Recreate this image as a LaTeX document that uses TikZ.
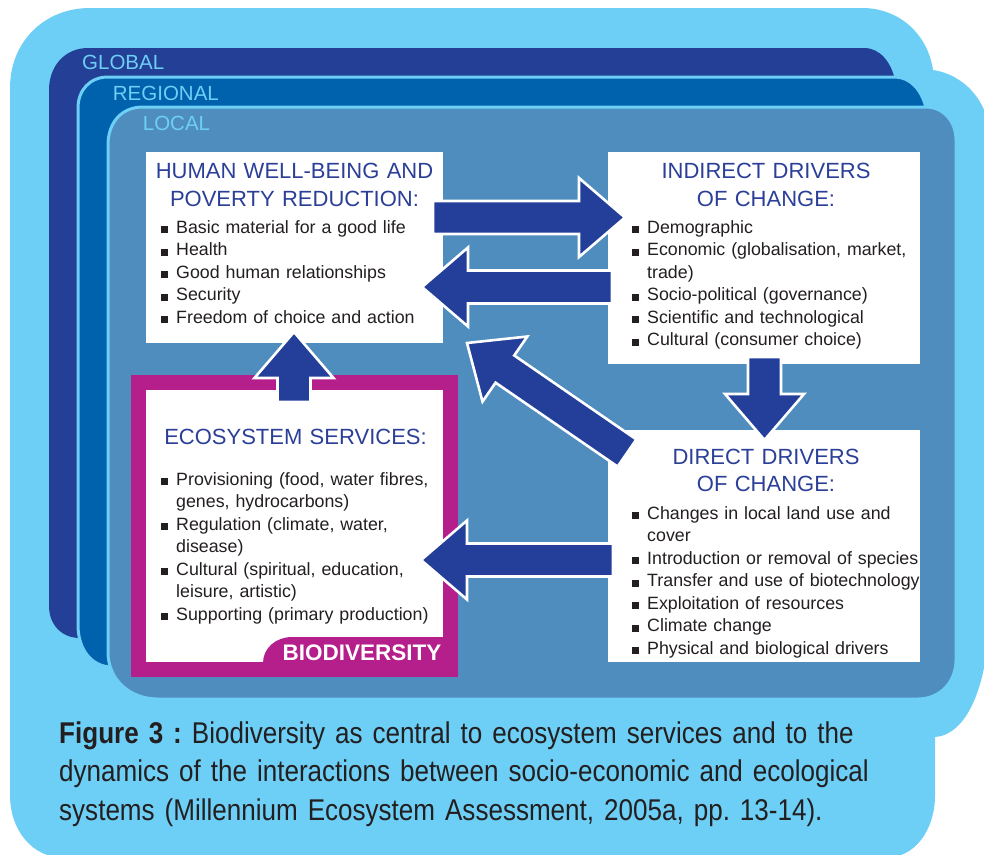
\documentclass[tikz,border=0pt]{standalone}
\usepackage{fontspec}
\setmainfont{Liberation Sans}
\newfontfamily\capfont[FakeStretch=0.868]{Liberation Sans}
\usetikzlibrary{calc}
\definecolor{skyblue}{HTML}{6DCFF6}
\definecolor{globalblue}{HTML}{233F96}
\definecolor{regionblue}{HTML}{0061AD}
\definecolor{localblue}{HTML}{4F8DBE}
\definecolor{arrowblue}{HTML}{233F99}
\definecolor{headblue}{HTML}{2B3F98}
\definecolor{magentab}{HTML}{B51F8C}
\definecolor{bodytext}{HTML}{231F20}
\newcommand\bfirst[1]{\hangindent=15.3pt\hangafter=1\noindent\makebox[15.3pt][l]{\rule{6.6pt}{6.6pt}}#1}
\newcommand\bitem[1]{\par\hangindent=15.3pt\hangafter=1\noindent\makebox[15.3pt][l]{\rule{6.6pt}{6.6pt}}#1}
\newcommand\blockarrow[2]{%
  \coordinate (ahb) at ($(#2)!46pt!(#1)$);
  \draw[arrowstyle] ($(#1)!16.5pt!90:(#2)$) -- ($(ahb)!16.5pt!90:(#2)$) -- ($(ahb)!39.5pt!90:(#2)$)
    -- (#2) -- ($(ahb)!39.5pt!-90:(#2)$) -- ($(ahb)!16.5pt!-90:(#2)$) -- ($(#1)!16.5pt!-90:(#2)$) -- cycle;}
\frenchspacing
\begin{document}
\begin{tikzpicture}[x=1pt,y=-1pt,
  whitebox/.style={fill=white, draw=none, inner sep=0pt, outer sep=0pt, anchor=north west},
  arrowstyle/.style={fill=arrowblue, draw=white, line width=2.6pt, line join=miter},
  headtext/.style={font=\fontsize{22}{27.5}\selectfont, text=headblue, align=center, inner sep=0pt, text width=310pt, anchor=base},
  listtext/.style={font=\fontsize{17.8}{22.5}\selectfont, text=bodytext, align=left, inner sep=0pt, text width=300pt, anchor=base west},
  scalelabel/.style={font=\fontsize{20.5}{24}\selectfont, text=skyblue, inner sep=0pt, anchor=base west}]
\useasboundingbox (0,0) rectangle (984,854);
\fill[white] (0,0) rectangle (984,854);
% outer light blue panel
\fill[skyblue] (10,88) .. controls (10,42) and (44,8) .. (90,8) -- (862,8)
  .. controls (900,8) and (928,35) .. (933,70)
  .. controls (962,74) and (990,100) .. (990,140) -- (990,600)
  .. controls (990,690) and (965,735) .. (935,737) -- (935,795)
  .. controls (935,830) and (915,858) .. (885,858) -- (65,858)
  .. controls (32,858) and (10,830) .. (10,795) -- cycle;
% global
\fill[globalblue] (49,90) .. controls (49,66) and (65,48) .. (88,48) -- (864,48)
  .. controls (880,48) and (891,62) .. (895,80) -- (895,638) -- (80,638)
  .. controls (62,638) and (49,625) .. (49,606) -- cycle;
% regional
\filldraw[fill=regionblue, draw=skyblue, line width=3pt] (78,108) .. controls (78,90) and (90,77) .. (108,77) -- (895,77)
  .. controls (910,77) and (922,90) .. (926,108) -- (926,667) -- (112,667)
  .. controls (92,667) and (78,650) .. (78,625) -- cycle;
% local
\filldraw[fill=localblue, draw=skyblue, line width=3pt] (108,145) .. controls (108,122) and (122,107) .. (143,107) -- (926,107)
  .. controls (943,107) and (956,121) .. (956,140) -- (956,660)
  .. controls (956,682) and (940,699) .. (918,699) -- (158,699)
  .. controls (130,699) and (108,680) .. (108,652) -- cycle;
\node[scalelabel] (lglobal) at (82,69.5) {GLOBAL};
\node[scalelabel] (lregional) at (112.7,100) {REGIONAL};
\node[scalelabel] (llocal) at (142.7,130.5) {LOCAL};
% boxes
\node[whitebox, minimum width=297pt, minimum height=191pt] (hw) at (146,152) {};
\node[whitebox, minimum width=312pt, minimum height=212pt] (ind) at (608,152) {};
\node[whitebox, minimum width=312pt, minimum height=232pt] (dir) at (608,430) {};
\node[whitebox, fill=magentab, minimum width=327pt, minimum height=302pt] (ecoframe) at (131,375) {};
\node[whitebox, minimum width=297pt, minimum height=272pt] (eco) at (146,390) {};
\fill[magentab] (263,663) .. controls (263,648) and (276,637) .. (292,637) -- (444,637) -- (444,663) -- cycle;
\node[font=\bfseries\fontsize{22.5}{26}\selectfont, text=white, inner sep=0pt, anchor=base east] (biodiv) at (441.5,660) {BIODIVERSITY};
% arrows
\coordinate (a1s) at (433,217.5); \coordinate (a1e) at (625,217.5);
\coordinate (a2s) at (612,287); \coordinate (a2e) at (422,287);
\coordinate (a3s) at (294,402); \coordinate (a3e) at (294,332);
\coordinate (a4s) at (764.5,357); \coordinate (a4e) at (764.5,440);
\coordinate (a5s) at (627,453); \coordinate (a5e) at (467,343);
\coordinate (a6s) at (613,560); \coordinate (a6e) at (421,560);
\blockarrow{a1s}{a1e}
\blockarrow{a2s}{a2e}
\blockarrow{a3s}{a3e}
\blockarrow{a4s}{a4e}
\blockarrow{a5s}{a5e}
\blockarrow{a6s}{a6e}
% texts
\node[headtext] (hwh) at (294.5,178.5) {HUMAN WELL-BEING AND\\POVERTY REDUCTION:};
\node[listtext] (hwl) at (160.7,233) {\bfirst{Basic material for a good life}\bitem{Health}\bitem{Good human relationships}\bitem{Security}\bitem{Freedom of choice and action}};
\node[headtext] (indh) at (766,178.5) {INDIRECT DRIVERS\\OF CHANGE:};
\node[listtext] (indl) at (631.7,233) {\bfirst{Demographic}\bitem{Economic (globalisation, market,\newline trade)}\bitem{Socio-political (governance)}\bitem{Scientific and technological}\bitem{Cultural (consumer choice)}};
\node[headtext] (dirh) at (766,464) {DIRECT DRIVERS\\OF CHANGE:};
\node[listtext] (dirl) at (631.7,519) {\bfirst{Changes in local land use and\newline cover}\bitem{Introduction or removal of species}\bitem{Transfer and use of biotechnology}\bitem{Exploitation of resources}\bitem{Climate change}\bitem{Physical and biological drivers}};
\node[headtext] (ecoh) at (295.5,444) {ECOSYSTEM SERVICES:};
\node[listtext] (ecol) at (160.7,485) {\bfirst{Provisioning (food, water fibres,\newline genes, hydrocarbons)}\bitem{Regulation (climate, water,\newline disease)}\bitem{Cultural (spiritual, education,\newline leisure, artistic)}\bitem{Supporting (primary production)}};
% caption
\node[font=\capfont\fontsize{30}{38.5}\selectfont, text=bodytext, align=left, text width=920pt, inner sep=0pt, anchor=base west] (caption) at (59,743)
  {\textbf{Figure 3 :} Biodiversity as central to ecosystem services and to the\\dynamics of the interactions between socio-economic and ecological\\systems (Millennium Ecosystem Assessment, 2005a, pp. 13-14).};
\end{tikzpicture}
\end{document}
